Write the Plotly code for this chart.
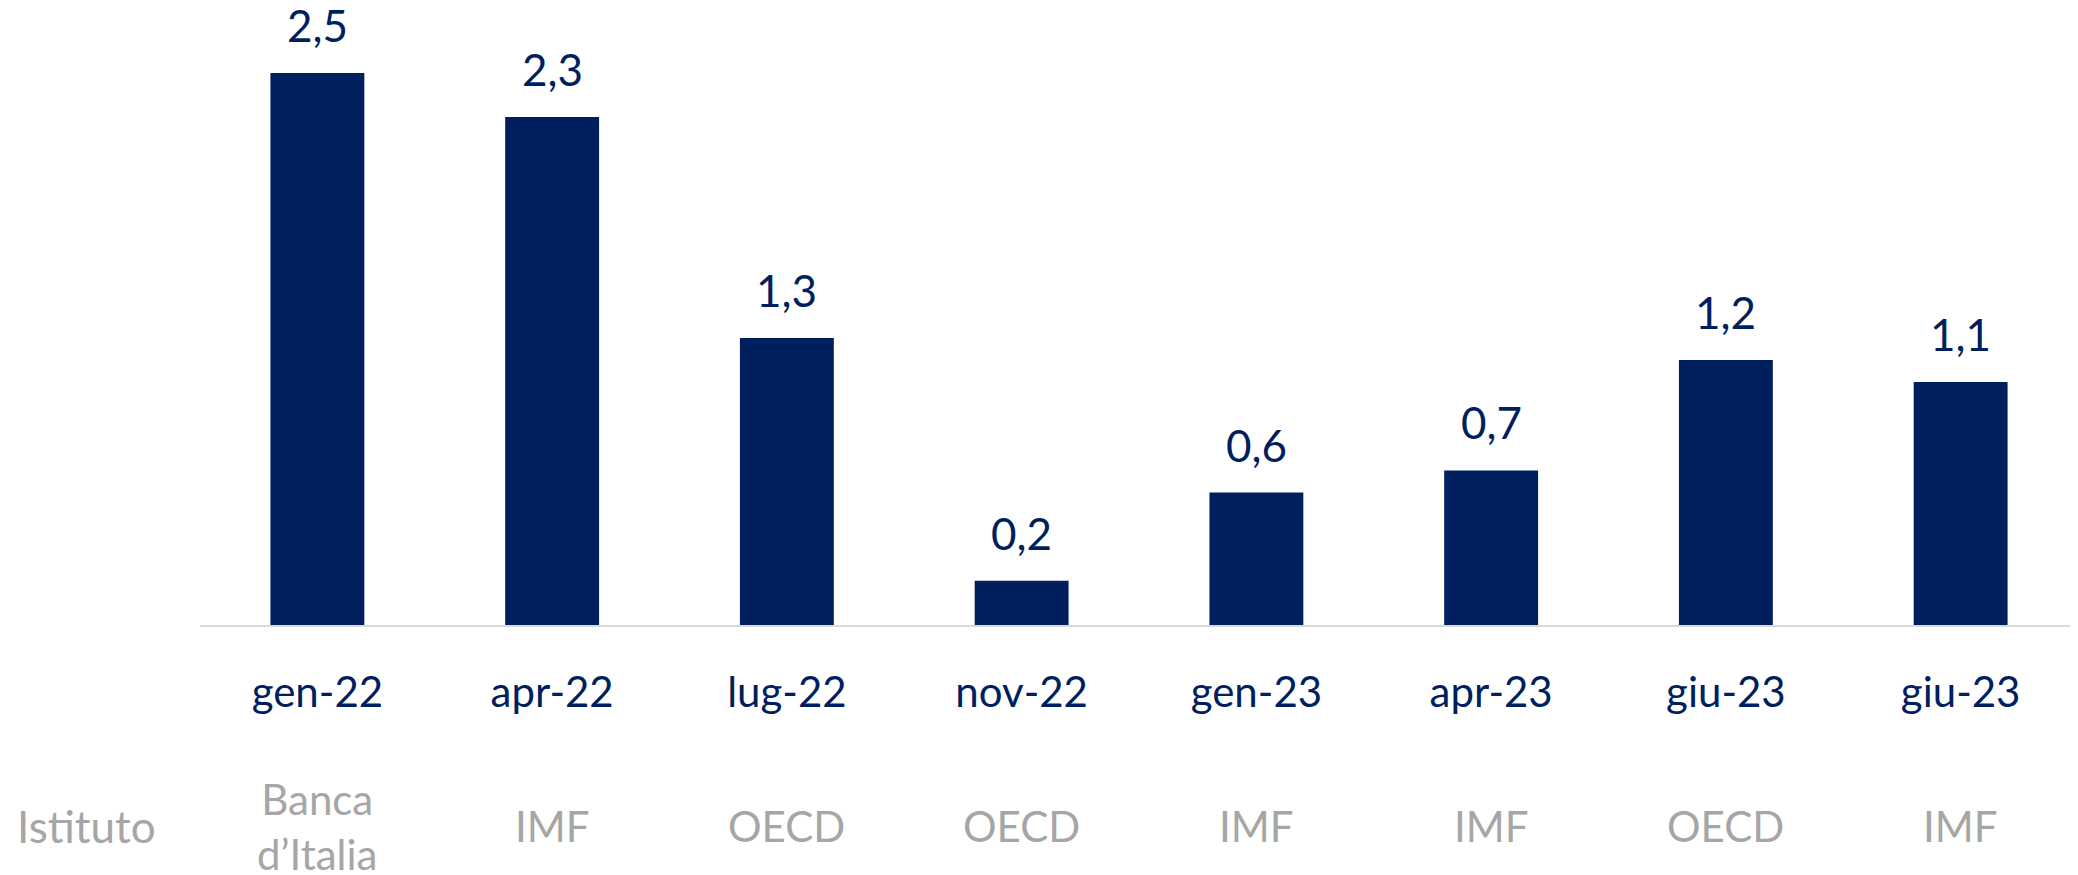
import plotly.graph_objects as go

categories = ["gen-22", "apr-22", "lug-22", "nov-22", "gen-23", "apr-23", "giu-23", "giu-23"]
values = [2.5, 2.3, 1.3, 0.2, 0.6, 0.7, 1.2, 1.1]
institutes = ["Banca<br>d’Italia", "IMF", "OECD", "OECD", "IMF", "IMF", "OECD", "IMF"]
row_label = "Istituto"

BLUE = "#001F5F"
GRAY = "#A6A6A6"
FONT = "Lato"
W = 400

xpos = list(range(len(categories)))

fig = go.Figure(go.Bar(
    x=xpos, y=values, marker=dict(color=BLUE, line=dict(width=0)),
    width=0.4, hoverinfo="skip",
))

annotations = []
for xi, v in zip(xpos, values):
    annotations.append(dict(
        x=xi, y=v, xref="x", yref="y", text=f"{v:.1f}".replace(".", ","),
        showarrow=False, yanchor="middle", yshift=48,
        font=dict(family=FONT, size=44, color=BLUE, weight=W),
    ))
for xi, inst in zip(xpos, institutes):
    annotations.append(dict(
        x=xi, y=0, xref="x", yref="paper", text=inst, showarrow=False,
        yanchor="middle", yshift=-201, align="center",
        font=dict(family=FONT, size=42, color=GRAY, weight=W),
    ))
annotations.append(dict(
    x=0, y=0, xref="paper", yref="paper", text=row_label,
    showarrow=False, xanchor="center", yanchor="middle",
    xshift=-114, yshift=-201,
    font=dict(family=FONT, size=44, color=GRAY, weight=W),
))

fig.update_layout(
    width=2070, height=867, autosize=False,
    margin=dict(l=192, r=0, t=0, b=250),
    paper_bgcolor="white", plot_bgcolor="white",
    showlegend=False, bargap=0.6,
    annotations=annotations,
    xaxis=dict(
        tickmode="array", tickvals=xpos, ticktext=categories,
        range=[-0.5, len(categories) - 0.5],
        showline=True, linecolor="#D9D9D9", linewidth=2,
        showgrid=False, zeroline=False,
        ticks="outside", ticklen=30, tickcolor="rgba(0,0,0,0)",
        tickfont=dict(family=FONT, size=42, color=BLUE, weight=W),
    ),
    yaxis=dict(range=[0, 2.794], visible=False, showgrid=False, zeroline=False),
)

fig.write_html("out.html")
